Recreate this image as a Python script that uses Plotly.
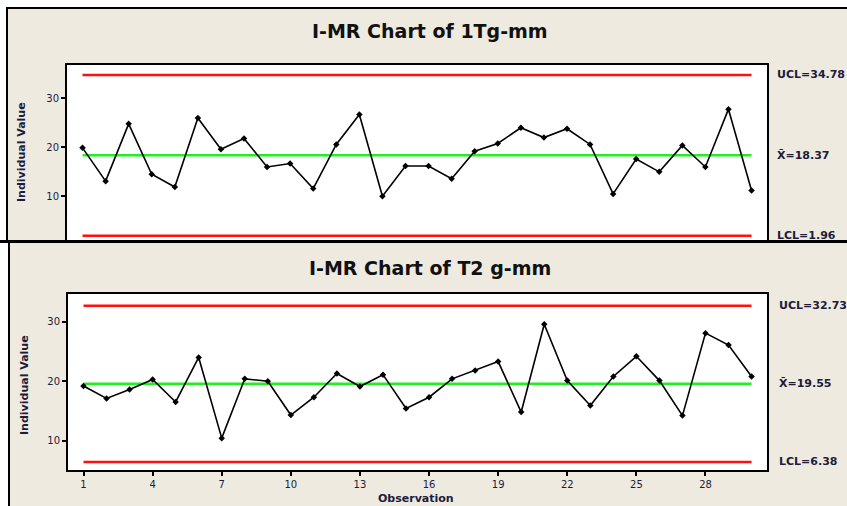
import plotly.graph_objects as go

W, H = 847, 506

obs = list(range(1, 31))
t1_values = [19.9, 13.1, 24.8, 14.5, 11.9, 26.0, 19.6, 21.8, 16.0, 16.7,
             11.6, 20.6, 26.7, 10.0, 16.2, 16.2, 13.6, 19.2, 20.8, 24.0,
             22.0, 23.8, 20.6, 10.5, 17.6, 15.0, 20.4, 16.0, 27.8, 11.2]
t2_values = [19.2, 17.1, 18.6, 20.3, 16.5, 24.0, 10.4, 20.4, 20.0, 14.3,
             17.3, 21.3, 19.1, 21.1, 15.4, 17.3, 20.4, 21.8, 23.3, 14.8,
             29.6, 20.1, 15.9, 20.8, 24.2, 20.1, 14.2, 28.1, 26.1, 20.8]
t1_limits = {"UCL": 34.78, "mean": 18.37, "LCL": 1.96}
t2_limits = {"UCL": 32.73, "mean": 19.55, "LCL": 6.38}
t1_label = ["UCL=34.78", "X̄=18.37", "LCL=1.96"]
t2_label = ["UCL=32.73", "X̄=19.55", "LCL=6.38"]
x_ticks = [1, 4, 7, 10, 13, 16, 19, 22, 25, 28]
y_ticks = [10, 20, 30]
titles = ["I-MR Chart of 1Tg-mm", "I-MR Chart of T2 g-mm"]


def px(x):
    return x / W


def py(y):
    return 1 - y / H


BEIGE = "#EEEAE0"
TXT = "#1c1c3c"
FONT = "DejaVu Sans"

fig = go.Figure()

for vals, lim, xa, ya in [(t1_values, t1_limits, "x", "y"), (t2_values, t2_limits, "x2", "y2")]:
    for key, col in [("UCL", "#FF1010"), ("LCL", "#FF1010"), ("mean", "#22EE22")]:
        fig.add_trace(go.Scatter(x=[obs[0], obs[-1]], y=[lim[key], lim[key]], mode="lines",
                                 line=dict(color=col, width=2.5), xaxis=xa, yaxis=ya,
                                 hoverinfo="skip", showlegend=False))
    fig.add_trace(go.Scatter(x=obs, y=vals, mode="lines+markers",
                             line=dict(color="black", width=1.6),
                             marker=dict(symbol="diamond", size=5, color="black"),
                             xaxis=xa, yaxis=ya, showlegend=False))

shapes = [
    dict(type="rect", xref="paper", yref="paper", x0=px(7), x1=px(860), y0=py(241), y1=py(8),
         fillcolor=BEIGE, line=dict(color="black", width=2), layer="below"),
    dict(type="rect", xref="paper", yref="paper", x0=px(9), x1=px(860), y0=py(520), y1=py(241),
         fillcolor=BEIGE, line=dict(color="black", width=2), layer="below"),
    dict(type="rect", xref="paper", yref="paper", x0=px(67), x1=px(767), y0=py(241), y1=py(65),
         fillcolor="white", line=dict(width=0), layer="below"),
    dict(type="rect", xref="paper", yref="paper", x0=px(68), x1=px(767), y0=py(470), y1=py(294),
         fillcolor="white", line=dict(width=0), layer="below"),
    dict(type="line", xref="paper", yref="paper", x0=0, x1=1, y0=py(241.5), y1=py(241.5),
         line=dict(color="black", width=3), layer="above"),
]

annotations = [
    dict(text="<b>" + titles[0] + "</b>", xref="paper", yref="paper", x=px(430), y=py(31),
         showarrow=False, font=dict(family=FONT, size=19, color="#111"),
         xanchor="center", yanchor="middle"),
    dict(text="<b>" + titles[1] + "</b>", xref="paper", yref="paper", x=px(430), y=py(268),
         showarrow=False, font=dict(family=FONT, size=19, color="#111"),
         xanchor="center", yanchor="middle"),
    dict(text="<b>Individual Value</b>", xref="paper", yref="paper", x=px(21), y=py(152),
         xanchor="center", yanchor="middle",
         showarrow=False, textangle=-90, font=dict(family=FONT, size=11, color=TXT)),
    dict(text="<b>Individual Value</b>", xref="paper", yref="paper", x=px(24), y=py(385),
         xanchor="center", yanchor="middle",
         showarrow=False, textangle=-90, font=dict(family=FONT, size=11, color=TXT)),
    dict(text="<b>Observation</b>", xref="paper", yref="paper", x=px(416), y=py(498),
         xanchor="center", yanchor="middle",
         showarrow=False, font=dict(family=FONT, size=11, color=TXT)),
]
for labels, lim, ya, xpos in [(t1_label, t1_limits, "y", 775), (t2_label, t2_limits, "y2", 777)]:
    for lab, key in zip(labels, ["UCL", "mean", "LCL"]):
        annotations.append(dict(text="<b>" + lab + "</b>", xref="paper", yref=ya, x=px(xpos), y=lim[key],
                                xanchor="left", yanchor="middle", showarrow=False,
                                font=dict(family=FONT, size=11, color=TXT)))

axis_common = dict(showgrid=False, zeroline=False, showline=True, linecolor="black", linewidth=2,
                   mirror=True, ticks="outside", ticklen=4, tickcolor="black", tickwidth=2,
                   tickfont=dict(family=FONT, size=10, color=TXT))

xr = [0.327, 30.67]
fig.update_layout(
    width=W, height=H, margin=dict(l=0, r=0, t=0, b=0),
    paper_bgcolor="white", plot_bgcolor="white",
    xaxis=dict(**{**axis_common, "ticks": "", "showticklabels": False}, domain=[px(67), px(767)],
               range=xr, anchor="y"),
    yaxis=dict(**axis_common, domain=[py(241), py(65)], range=[0.88, 36.82], tickvals=y_ticks,
               anchor="x"),
    xaxis2=dict(**axis_common, domain=[px(68), px(767)], range=xr, tickvals=x_ticks, anchor="y2"),
    yaxis2=dict(**axis_common, domain=[py(470), py(294)], range=[5.03, 34.70], tickvals=y_ticks,
                anchor="x2"),
    shapes=shapes, annotations=annotations,
)

fig.write_html("out.html", config={"displayModeBar": False},
               post_script="document.body.style.margin='0';document.body.style.overflow='hidden';")
